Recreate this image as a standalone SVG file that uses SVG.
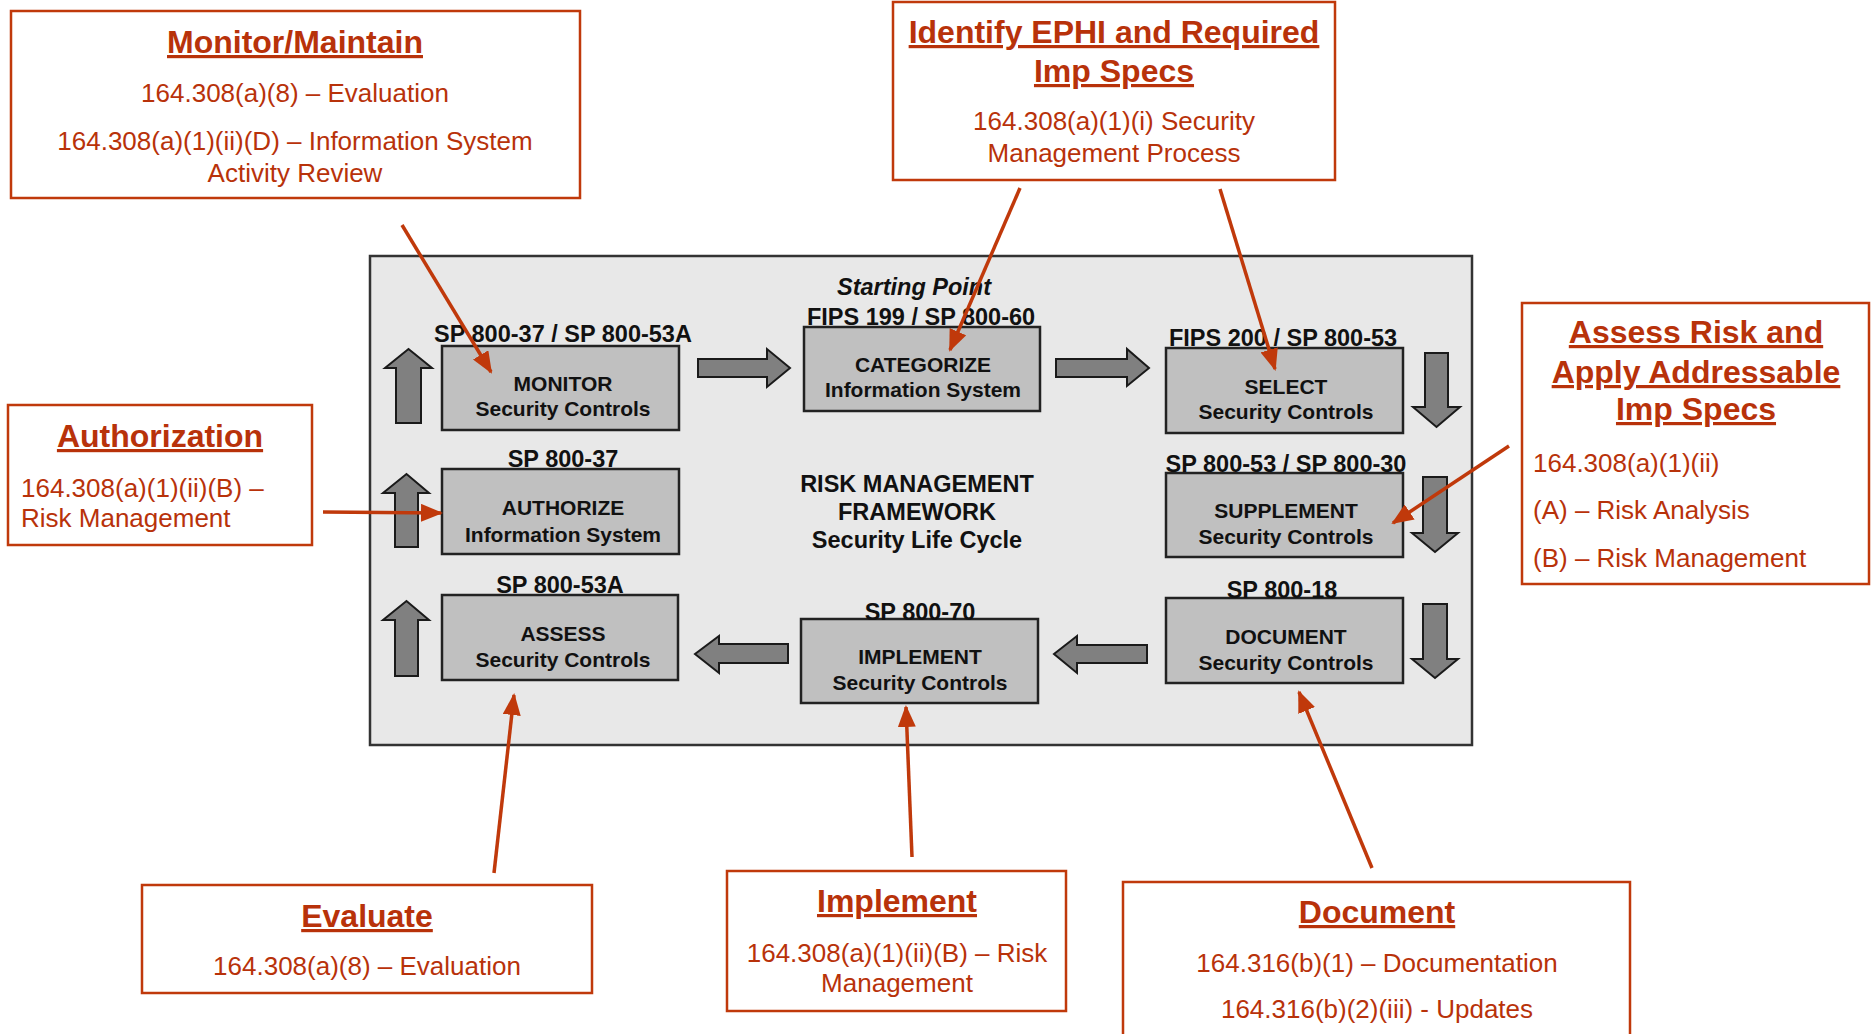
<svg xmlns="http://www.w3.org/2000/svg" width="1875" height="1034" viewBox="0 0 1875 1034">
<defs>
<style>
.rbox{fill:#ffffff;stroke:#C0390B;stroke-width:2.5}
.rt{font-family:"Liberation Sans",Arial,sans-serif;font-weight:bold;font-size:32px;fill:#B8320A;text-anchor:middle;text-decoration:underline;text-decoration-thickness:3.5px;text-underline-offset:4px}
.rb{font-family:"Liberation Sans",Arial,sans-serif;font-size:26px;fill:#B8320A;text-anchor:middle}
.rbl{font-family:"Liberation Sans",Arial,sans-serif;font-size:26px;fill:#B8320A}
.node{fill:#C0C0C0;stroke:#222;stroke-width:2.5}
.nt{font-family:"Liberation Sans",Arial,sans-serif;font-weight:bold;font-size:21px;fill:#111;text-anchor:middle}
.hl{font-family:"Liberation Sans",Arial,sans-serif;font-weight:bold;font-size:23.5px;fill:#111;text-anchor:middle}
.blk{fill:#808080;stroke:#1a1a1a;stroke-width:2;stroke-linejoin:miter}
.red{stroke:#C0390B;stroke-width:3.5;fill:none}
</style>
<marker id="ah" markerUnits="userSpaceOnUse" markerWidth="22" markerHeight="18" refX="20" refY="9" orient="auto">
<path d="M0,0 L22,9 L0,18 Z" fill="#C0390B"/>
</marker>
</defs>
<rect x="0" y="0" width="1875" height="1034" fill="#ffffff"/>

<g id="framework">
<rect x="370" y="256" width="1102" height="489" fill="#E8E8E8" stroke="#333" stroke-width="2.5"/>
<text class="hl" x="917" y="492">RISK MANAGEMENT</text>
<text class="hl" x="917" y="520">FRAMEWORK</text>
<text class="hl" x="917" y="548">Security Life Cycle</text>
</g>

<g id="flow-arrows">
<polygon class="blk" points="396,423 396,368 385,368 408.5,349 432,368 421,368 421,423"/>
<polygon class="blk" points="395,547 395,493 383,493 406.5,474 429,493 418,493 418,547"/>
<polygon class="blk" points="395,676 395,620 383,620 406.5,601 429,620 418,620 418,676"/>
<polygon class="blk" points="698,359 767,359 767,349 790,368 767,387 767,377 698,377"/>
<polygon class="blk" points="1056,359 1127,359 1127,349 1149,368 1127,386 1127,377 1056,377"/>
<polygon class="blk" points="1425,353 1448,353 1448,407 1460,407 1436.5,427 1413,407 1425,407"/>
<polygon class="blk" points="1423,477 1447,477 1447,533 1458,533 1435,552 1412,533 1423,533"/>
<polygon class="blk" points="1423,604 1447,604 1447,659 1458,659 1435,678 1412,659 1423,659"/>
<polygon class="blk" points="788,644 788,663 719,663 719,673 695,654 719,636 719,644"/>
<polygon class="blk" points="1147,645 1147,663 1077,663 1077,673 1054,654 1077,636 1077,645"/>
</g>

<g id="monitor">
<rect class="node" x="442" y="346" width="237" height="84"/>
<text class="hl" x="563" y="342">SP 800-37 / SP 800-53A</text>
<text class="nt" x="563" y="391">MONITOR</text>
<text class="nt" x="563" y="416">Security Controls</text>
</g>

<g id="categorize">
<rect class="node" x="804" y="327" width="236" height="84"/>
<text class="hl" x="914" y="295" font-style="italic">Starting Point</text>
<text class="hl" x="921" y="325">FIPS 199 / SP 800-60</text>
<text class="nt" x="923" y="372">CATEGORIZE</text>
<text class="nt" x="923" y="397">Information System</text>
</g>

<g id="select">
<rect class="node" x="1166" y="348" width="237" height="85"/>
<text class="hl" x="1283" y="346">FIPS 200 / SP 800-53</text>
<text class="nt" x="1286" y="394">SELECT</text>
<text class="nt" x="1286" y="419">Security Controls</text>
</g>

<g id="authorize">
<rect class="node" x="442" y="469" width="237" height="85"/>
<text class="hl" x="563" y="467">SP 800-37</text>
<text class="nt" x="563" y="515">AUTHORIZE</text>
<text class="nt" x="563" y="542">Information System</text>
</g>

<g id="supplement">
<rect class="node" x="1166" y="473" width="237" height="84"/>
<text class="hl" x="1286" y="472">SP 800-53 / SP 800-30</text>
<text class="nt" x="1286" y="518">SUPPLEMENT</text>
<text class="nt" x="1286" y="544">Security Controls</text>
</g>

<g id="assess">
<rect class="node" x="442" y="595" width="236" height="85"/>
<text class="hl" x="560" y="593">SP 800-53A</text>
<text class="nt" x="563" y="641">ASSESS</text>
<text class="nt" x="563" y="667">Security Controls</text>
</g>

<g id="implement">
<rect class="node" x="801" y="619" width="237" height="84"/>
<text class="hl" x="920" y="620">SP 800-70</text>
<text class="nt" x="920" y="664">IMPLEMENT</text>
<text class="nt" x="920" y="690">Security Controls</text>
</g>

<g id="document">
<rect class="node" x="1166" y="598" width="237" height="85"/>
<text class="hl" x="1282" y="598">SP 800-18</text>
<text class="nt" x="1286" y="644">DOCUMENT</text>
<text class="nt" x="1286" y="670">Security Controls</text>
</g>

<g id="box-monitor-maintain">
<rect class="rbox" x="11" y="11" width="569" height="187"/>
<text class="rt" x="295" y="53">Monitor/Maintain</text>
<text class="rb" x="295" y="102">164.308(a)(8) – Evaluation</text>
<text class="rb" x="295" y="150">164.308(a)(1)(ii)(D) – Information System</text>
<text class="rb" x="295" y="182">Activity Review</text>
</g>

<g id="box-identify">
<rect class="rbox" x="893" y="2" width="442" height="178"/>
<text class="rt" x="1114" y="43">Identify EPHI and Required</text>
<text class="rt" x="1114" y="82">Imp Specs</text>
<text class="rb" x="1114" y="130">164.308(a)(1)(i) Security</text>
<text class="rb" x="1114" y="162">Management Process</text>
</g>

<g id="box-assess-risk">
<rect class="rbox" x="1522" y="303" width="347" height="281"/>
<text class="rt" x="1696" y="343">Assess Risk and</text>
<text class="rt" x="1696" y="383">Apply Addressable</text>
<text class="rt" x="1696" y="420">Imp Specs</text>
<text class="rbl" x="1533" y="472">164.308(a)(1)(ii)</text>
<text class="rbl" x="1533" y="519">(A) – Risk Analysis</text>
<text class="rbl" x="1533" y="567">(B) – Risk Management</text>
</g>

<g id="box-authorization">
<rect class="rbox" x="8" y="405" width="304" height="140"/>
<text class="rt" x="160" y="447">Authorization</text>
<text class="rbl" x="21" y="497">164.308(a)(1)(ii)(B) –</text>
<text class="rbl" x="21" y="527">Risk Management</text>
</g>

<g id="box-evaluate">
<rect class="rbox" x="142" y="885" width="450" height="108"/>
<text class="rt" x="367" y="927">Evaluate</text>
<text class="rb" x="367" y="975">164.308(a)(8) – Evaluation</text>
</g>

<g id="box-implement">
<rect class="rbox" x="727" y="871" width="339" height="140"/>
<text class="rt" x="897" y="912">Implement</text>
<text class="rb" x="897" y="962">164.308(a)(1)(ii)(B) – Risk</text>
<text class="rb" x="897" y="992">Management</text>
</g>

<g id="box-document">
<rect class="rbox" x="1123" y="882" width="507" height="160"/>
<text class="rt" x="1377" y="923">Document</text>
<text class="rb" x="1377" y="972">164.316(b)(1) – Documentation</text>
<text class="rb" x="1377" y="1018">164.316(b)(2)(iii) - Updates</text>
</g>

<g id="connectors">
<line class="red" x1="402" y1="225" x2="491" y2="372" marker-end="url(#ah)"/>
<line class="red" x1="1020" y1="188" x2="950" y2="350" marker-end="url(#ah)"/>
<line class="red" x1="1220" y1="189" x2="1275" y2="369" marker-end="url(#ah)"/>
<line class="red" x1="1509" y1="446" x2="1393" y2="523" marker-end="url(#ah)"/>
<line class="red" x1="323" y1="512" x2="441" y2="513" marker-end="url(#ah)"/>
<line class="red" x1="494" y1="873" x2="514" y2="695" marker-end="url(#ah)"/>
<line class="red" x1="912" y1="857" x2="906" y2="707" marker-end="url(#ah)"/>
<line class="red" x1="1372" y1="868" x2="1299" y2="692" marker-end="url(#ah)"/>
</g>
</svg>
